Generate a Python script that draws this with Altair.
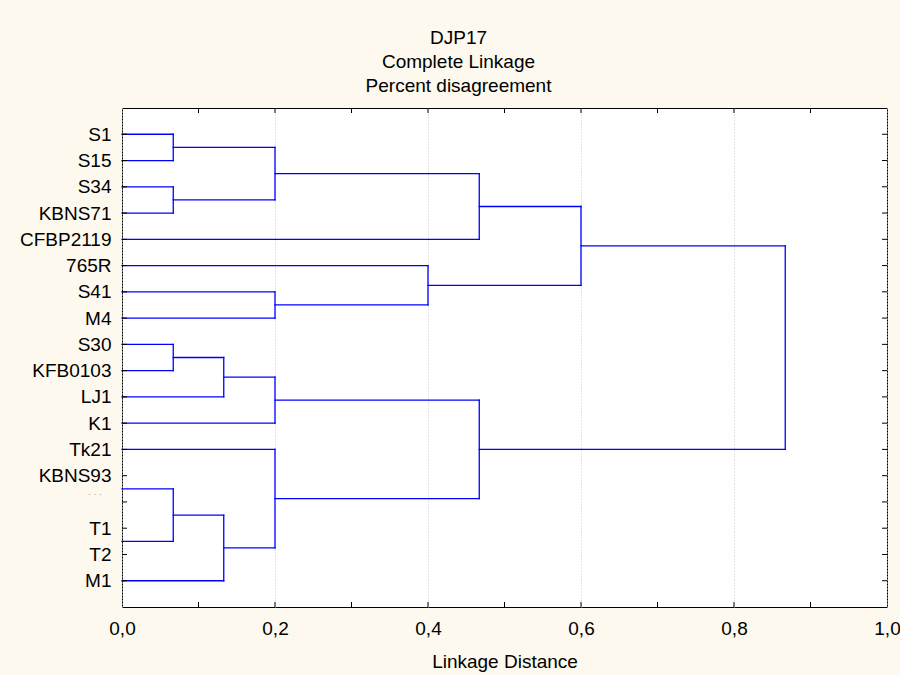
import altair as alt
import pandas as pd

# ---- data ----
y_labels = ["S1", "S15", "S34", "KBNS71", "CFBP2119", "765R", "S41", "M4",
            "S30", "KFB0103", "LJ1", "K1", "Tk21", "KBNS93", "", "T1", "T2", "M1"]
# rows at which the leaf lines of the tree are drawn (16 leaves)
leaf_rows = [0, 1, 2, 3, 4, 5, 6, 7, 8, 9, 10, 11, 12, 13.5, 15.5, 17]
# merges: (child a, child b, linkage distance); new clusters numbered from 16
merges = [
    (0, 1, 0.067),    # 16
    (2, 3, 0.067),    # 17
    (16, 17, 0.2),    # 18
    (18, 4, 0.467),   # 19
    (6, 7, 0.2),      # 20
    (5, 20, 0.4),     # 21
    (19, 21, 0.6),    # 22
    (8, 9, 0.067),    # 23
    (23, 10, 0.133),  # 24
    (24, 11, 0.2),    # 25
    (13, 14, 0.067),  # 26
    (26, 15, 0.133),  # 27
    (12, 27, 0.2),    # 28
    (25, 28, 0.467),  # 29
    (22, 29, 0.867),  # 30
]
x_major = [0.0, 0.2, 0.4, 0.6, 0.8, 1.0]
x_minor = [0.1, 0.2, 0.3, 0.4, 0.5, 0.6, 0.7, 0.8, 0.9]
faint_label = "·    ·    ·"
faint_row = 13.68

# ---- build dendrogram segments ----
pos = list(leaf_rows)
hgt = [0.0] * len(leaf_rows)
segs = []
for a, b, h in merges:
    for c in (a, b):
        segs.append({"x": hgt[c], "x2": h, "y": pos[c], "y2": pos[c]})
    segs.append({"x": h, "x2": h, "y": pos[a], "y2": pos[b]})
    pos.append((pos[a] + pos[b]) / 2)
    hgt.append(h)
seg_df = pd.DataFrame(segs)

W, H = 765, 499
FONT = "Liberation Sans"
FS = 19

xscale = alt.Scale(domain=[0, 1], nice=False, zero=False)
yscale = alt.Scale(domain=[-1, 18], reverse=True, nice=False, zero=False)

label_arr = "[" + ",".join("'" + s + "'" for s in y_labels) + "]"

xaxis = alt.Axis(
    values=x_major, labelExpr="replace(format(datum.value, '.1f'), '.', ',')",
    grid=True, gridDash=[1, 2], gridColor="#c8c8c8", gridWidth=1,
    ticks=False, domain=False, labelPadding=12, labelFontSize=FS,
    labelFont=FONT, labelColor="black", labelOverlap=False,
    titleFontSize=FS, titleFont=FONT, titleFontWeight="normal",
    titleColor="black", titlePadding=14, labelFlush=False)
yaxis = alt.Axis(
    values=list(range(len(y_labels))),
    labelExpr=label_arr + "[datum.value]",
    grid=False, ticks=False, domain=False, labelPadding=11,
    labelOverlap=False, labelFontSize=FS, labelFont=FONT, labelColor="black")

XT = "Linkage Distance"

tree = alt.Chart(seg_df).mark_rule(color="#0000ff", strokeWidth=1.3, strokeCap="square").encode(
    x=alt.X("x:Q", scale=xscale, title=XT, axis=xaxis),
    x2="x2:Q",
    y=alt.Y("y:Q", scale=yscale, title="", axis=yaxis),
    y2="y2:Q",
)

row_df = pd.DataFrame({"y": list(range(len(y_labels)))})
left_ticks = alt.Chart(row_df).mark_rule(color="black", strokeWidth=1).encode(
    y=alt.Y("y:Q", scale=yscale, title="", axis=yaxis), x=alt.value(0), x2=alt.value(5))
right_ticks = alt.Chart(row_df).mark_rule(color="black", strokeWidth=1).encode(
    y=alt.Y("y:Q", scale=yscale, title="", axis=yaxis), x=alt.value(W - 5), x2=alt.value(W))

xt_df = pd.DataFrame({"x": x_minor})
bottom_ticks = alt.Chart(xt_df).mark_rule(color="black", strokeWidth=1).encode(
    x=alt.X("x:Q", scale=xscale, title=XT, axis=xaxis), y=alt.value(H), y2=alt.value(H - 5))
top_ticks = alt.Chart(xt_df).mark_rule(color="black", strokeWidth=1).encode(
    x=alt.X("x:Q", scale=xscale, title=XT, axis=xaxis), y=alt.value(0), y2=alt.value(5))

faint = alt.Chart(pd.DataFrame({"t": [faint_label], "y": [faint_row]})).mark_text(
    align="right", baseline="middle", fontSize=9, color="#a0a0a0", font=FONT, dx=-20
).encode(y=alt.Y("y:Q", scale=yscale, title="", axis=yaxis), x=alt.value(0), text="t:N")

chart = alt.layer(tree, left_ticks, right_ticks, bottom_ticks, top_ticks, faint).properties(
    width=W, height=H,
    padding={"left": 122, "top": 108, "right": 13, "bottom": 68},
    autosize=alt.AutoSizeParams(type="none"),
    title=alt.TitleParams(
        text=["DJP17", "Complete Linkage", "Percent disagreement"],
        fontSize=FS, fontWeight="normal", font=FONT, color="black",
        lineHeight=24, anchor="middle", dx=-46, offset=12),
).configure(background="#fdf9ee").configure_view(
    fill="white", stroke="black", strokeWidth=1)

chart.save("out.html", embed_options={"renderer": "svg", "actions": False})
